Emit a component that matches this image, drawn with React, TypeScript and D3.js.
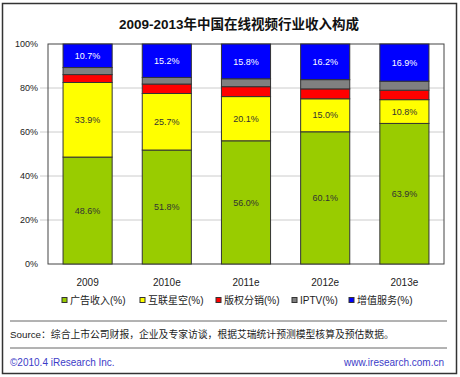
import React from "react";
import * as d3 from "d3";

const categories = ["2009", "2010e", "2011e", "2012e", "2013e"];
const seriesNames = ["广告收入(%)", "互联星空(%)", "版权分销(%)", "IPTV(%)", "增值服务(%)"];
const adRevenue = [48.6, 51.8, 56.0, 60.1, 63.9];
const vnet = [33.9, 25.7, 20.1, 15.0, 10.8];
const copyright = [3.6, 4.3, 4.5, 4.5, 4.3];
const iptv = [3.2, 3.0, 3.6, 4.2, 4.1];
const valueAdded = [10.7, 15.2, 15.8, 16.2, 16.9];
const yTicks = [0, 20, 40, 60, 80, 100];
const colors = ["#99CC00", "#FFFF00", "#FF0000", "#808080", "#0000FF"];
const labelColors = ["#333", "#333", null, null, "#fff"];
const showLabel = [true, true, false, false, true];

export default function App() {
  const W = 460, H = 377;
  const left = 48, right = 444, top = 44, bottom = 264;
  const x = d3.scaleBand().domain(categories).range([left, right]).paddingInner(0.38).paddingOuter(0.19);
  const y = d3.scaleLinear().domain([0, 100]).range([bottom, top]);
  const rows = categories.map((c, i) => ({
    cat: c,
    s0: adRevenue[i], s1: vnet[i], s2: copyright[i], s3: iptv[i], s4: valueAdded[i],
  }));
  const stack = d3.stack<any>().keys(["s0", "s1", "s2", "s3", "s4"])(rows);
  const font = "'Liberation Sans', 'Noto Sans CJK SC', sans-serif";
  const legendX = [62, 140, 216, 292, 349];

  return (
    <svg width={W} height={H} style={{ position: "absolute", left: 0, top: 0, fontFamily: font }}>
      <rect x={0} y={0} width={W} height={H} fill="#fff" />
      <rect x={2.5} y={3.5} width={454} height={370} fill="none" stroke="#333" strokeWidth={1.5} />
      <text x={239} y={29} textAnchor="middle" fontSize={13.5} fontWeight="bold" fill="#111">
        2009-2013年中国在线视频行业收入构成
      </text>
      {yTicks.map((t) => (
        <g key={t}>
          {t > 0 && t < 100 && (
            <line x1={40} x2={right} y1={y(t)} y2={y(t)} stroke="#ccc" strokeWidth={1} />
          )}
          <text x={38} y={y(t)} dy="0.35em" textAnchor="end" fontSize={9} fill="#222">
            {t}%
          </text>
        </g>
      ))}
      <rect x={left} y={top} width={right - left} height={bottom - top} fill="none" stroke="#444" strokeWidth={1} />
      {stack.map((layer, si) => (
        <g key={si}>
          {layer.map((d, i) => {
            const x0 = x(categories[i])!;
            const y0 = y(d[1]);
            const h = y(d[0]) - y(d[1]);
            return (
              <g key={i}>
                <rect x={x0} y={y0} width={x.bandwidth()} height={h} fill={colors[si]} stroke="#333" strokeWidth={1} />
                {showLabel[si] && (
                  <text x={x0 + x.bandwidth() / 2} y={y0 + h / 2} dy="0.35em" textAnchor="middle" fontSize={9} fill={labelColors[si]!}>
                    {(d[1] - d[0]).toFixed(1)}%
                  </text>
                )}
              </g>
            );
          })}
        </g>
      ))}
      {categories.map((c) => (
        <text key={c} x={x(c)! + x.bandwidth() / 2} y={282} dy="0.35em" textAnchor="middle" fontSize={10} fill="#222">
          {c}
        </text>
      ))}
      {seriesNames.map((n, i) => (
        <g key={n}>
          <rect x={legendX[i]} y={297.5} width={5} height={5} fill={colors[i]} stroke="#333" strokeWidth={1} />
          <text x={legendX[i] + 8} y={300.5} dy="0.35em" fontSize={10} fill="#222">{n}</text>
        </g>
      ))}
      <line x1={10} x2={447} y1={321} y2={321} stroke="#666" strokeWidth={1} />
      <text x={10} y={335} dy="0.35em" fontSize={9.8} fill="#222">
        Source：综合上市公司财报，企业及专家访谈，根据艾瑞统计预测模型核算及预估数据。
      </text>
      <line x1={10} x2={447} y1={348} y2={348} stroke="#666" strokeWidth={1} />
      <text x={10} y={362} dy="0.35em" fontSize={10} fill="#3c3cc8">©2010.4 iResearch Inc.</text>
      <text x={444} y={362} dy="0.35em" textAnchor="end" fontSize={10} fill="#3c3cc8">www.iresearch.com.cn</text>
    </svg>
  );
}
